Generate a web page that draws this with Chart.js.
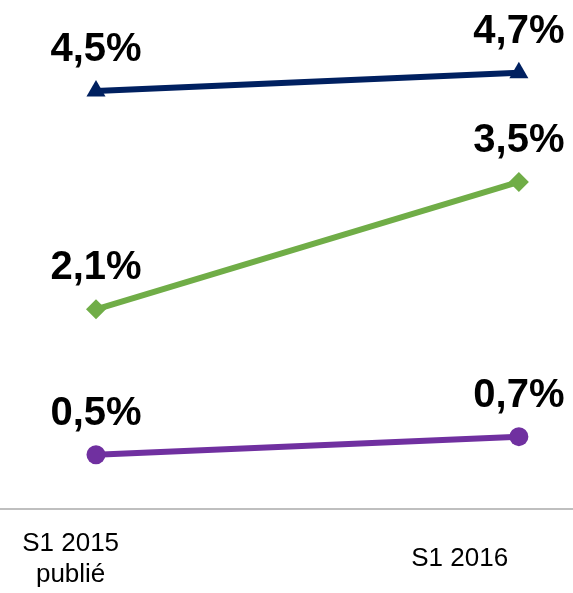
<!DOCTYPE html>
<html>
<head>
<meta charset="utf-8">
<script src="https://cdn.jsdelivr.net/npm/chart.js@4/dist/chart.umd.min.js"></script>
<style>
  html, body { margin: 0; padding: 0; background: #fff; }
  #wrap { width: 573px; height: 593px; }
</style>
</head>
<body>
<div id="wrap"><canvas id="chart"></canvas></div>
<script>
const categories = [['S1 2015', 'publié'], ['S1 2016']];
const seriesNavy = [4.5, 4.7];
const seriesGreen = [2.1, 3.5];
const seriesPurple = [0.5, 0.7];

// where the category labels sit on the x axis (points are at 0 and 1)
const labelPos = [-0.06, 0.86];

const toPoints = (arr) => arr.map((v, i) => ({ x: i, y: v }));
const fmt = (v) => v.toFixed(1).replace('.', ',') + '%';

const valueLabels = {
    id: 'valueLabels',
    afterDatasetsDraw: function (chart) {
        const ctx = chart.ctx;
        ctx.save();
        ctx.font = 'bold 40px "Liberation Sans", Arial, sans-serif';
        ctx.fillStyle = '#000';
        ctx.textAlign = 'center';
        ctx.textBaseline = 'alphabetic';
        chart.data.datasets.forEach((ds, i) => {
            chart.getDatasetMeta(i).data.forEach((pt, j) => {
                ctx.fillText(fmt(ds.data[j].y), pt.x, pt.y - 30);
            });
        });
        ctx.restore();
    }
};

const makeSeries = (data, color, style, radius) => ({
    data: toPoints(data),
    borderColor: color,
    backgroundColor: color,
    borderWidth: 6,
    pointStyle: style,
    pointRadius: radius,
    pointBorderWidth: 0,
    pointBackgroundColor: color,
    tension: 0,
    clip: false
});

new Chart(document.getElementById('chart').getContext('2d'), {
    type: 'line',
    data: {
        datasets: [
            makeSeries(seriesNavy, '#002060', 'triangle', 11),
            makeSeries(seriesGreen, '#70ad47', 'rectRot', 10),
            makeSeries(seriesPurple, '#7030a0', 'circle', 9.5)
        ]
    },
    options: {
        responsive: true,
        maintainAspectRatio: false,
        animation: false,
        layout: { autoPadding: false, padding: { left: 0, right: 0, top: 0, bottom: -16 } },
        plugins: { legend: { display: false }, tooltip: { enabled: false } },
        scales: {
            x: {
                type: 'linear',
                min: -0.227,
                max: 1.128,
                grid: { display: false, drawTicks: false },
                border: { display: true, color: '#bfbfbf', width: 2 },
                afterBuildTicks: (scale) => {
                    scale.ticks = labelPos.map(v => ({ value: v }));
                },
                ticks: {
                    autoSkip: false,
                    maxRotation: 0,
                    padding: 3,
                    crossAlign: 'center',
                    color: '#000',
                    font: { family: '"Liberation Sans", Arial, sans-serif', size: 26, lineHeight: 1.2 },
                    // blank first line pushes the labels down from the axis
                    callback: (val, idx) => [''].concat(categories[idx])
                }
            },
            y: {
                display: false,
                min: -0.1,
                max: 5.5
            }
        }
    },
    plugins: [valueLabels]
});
</script>
</body>
</html>
